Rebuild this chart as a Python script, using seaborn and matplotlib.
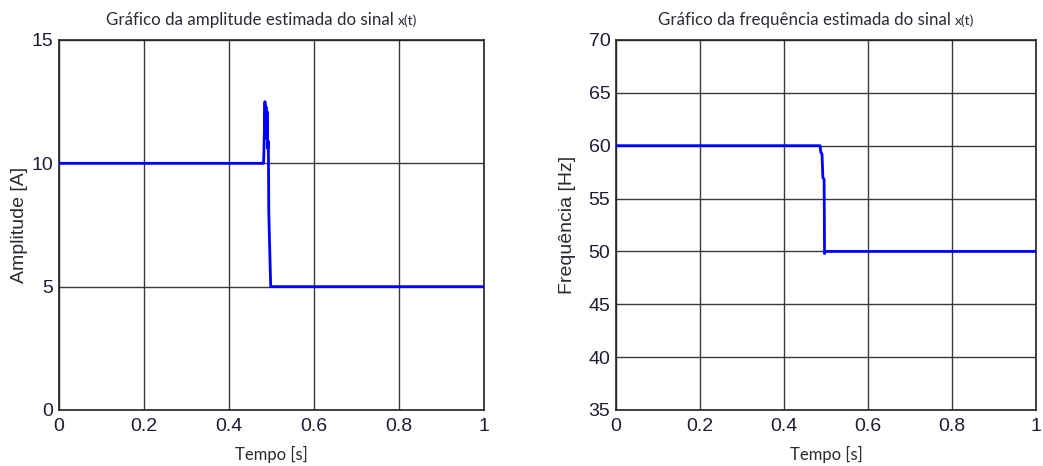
import matplotlib
matplotlib.use("Agg")
import matplotlib.pyplot as plt
import seaborn as sns
import pandas as pd
import numpy as np

# --- data ---
t_amp = [0.0, 0.481, 0.482, 0.4845, 0.4855, 0.487, 0.4885, 0.4895, 0.491, 0.4925, 0.4935, 0.498, 1.0]
amp   = [10.0, 10.0, 10.4, 12.5, 11.2, 12.3, 11.0, 12.1, 10.6, 10.9, 8.0, 5.0, 5.0]

t_freq = [0.0, 0.486, 0.4875, 0.4905, 0.4925, 0.4955, 0.4965, 0.498, 1.0]
freq   = [60.0, 60.0, 59.4, 59.2, 57.0, 56.8, 49.8, 50.0, 50.0]

xticks = [0, 0.2, 0.4, 0.6, 0.8, 1]
xtick_labels = ["0", "0.2", "0.4", "0.6", "0.8", "1"]
amp_yticks = [0, 5, 10, 15]
freq_yticks = [35, 40, 45, 50, 55, 60, 65, 70]

titles = ["Gráfico da amplitude estimada do sinal", "Gráfico da frequência estimada do sinal"]
title_suffix = "x(t)"
ylabels = ["Amplitude [A]", "Frequência [Hz]"]
xlabel = "Tempo [s]"

df_amp = pd.DataFrame({"t": t_amp, "v": amp})
df_freq = pd.DataFrame({"t": t_freq, "v": freq})

sns.set_style("white")
plt.rcParams['font.family'] = ['Liberation Sans', 'DejaVu Sans']

fig = plt.figure(figsize=(10.43, 4.66), dpi=100)
ax1 = fig.add_axes([0.0566, 0.1202, 0.4075, 0.794])
ax2 = fig.add_axes([0.5906, 0.1202, 0.4027, 0.794])

tick_color = "#1c1c34"
text_color = "#2a2a33"
title_font = ['Lato', 'DejaVu Sans']
specs = [
    (ax1, df_amp, (0, 15), amp_yticks, ylabels[0], 3),
    (ax2, df_freq, (35, 70), freq_yticks, ylabels[1], 9),
]
for ax, df, ylim, yticks, ylabel, lpad in specs:
    sns.lineplot(data=df, x="t", y="v", ax=ax, color="#0000ff", linewidth=2.0,
                 estimator=None, sort=False, zorder=3)
    ax.set_xlim(0, 1)
    ax.set_ylim(*ylim)
    ax.set_xticks(xticks)
    ax.set_xticklabels(xtick_labels)
    ax.set_yticks(yticks)
    ax.grid(True, color="#3a3a3a", linewidth=1.0, linestyle="-", zorder=0)
    ax.set_axisbelow(True)
    for s in ax.spines.values():
        s.set_color("#222222")
        s.set_linewidth(1.2)
        s.set_visible(True)
    ax.tick_params(axis="both", direction="in", length=4, labelsize=14,
                   colors="#222222", labelcolor=tick_color, pad=4)
    ax.tick_params(axis="x", pad=6)
    ax.set_xlabel(xlabel, fontsize=12, family=title_font,
                  color=text_color, labelpad=8)
    ax.set_ylabel(ylabel, fontsize=14, color=text_color, labelpad=lpad)

# titles: main text + smaller x(t)
fig.canvas.draw()
renderer = fig.canvas.get_renderer()
for ax, title in [(ax1, titles[0]), (ax2, titles[1])]:
    bb = ax.get_window_extent(renderer)
    cx = (bb.x0 + bb.x1) / 2 - 10
    y = bb.y1 + 15
    t1 = fig.text(0, y / fig.bbox.height, title + " ", fontsize=12.2, family=title_font,
                  color=text_color, ha="left", va="baseline")
    t2 = fig.text(0, y / fig.bbox.height, title_suffix, fontsize=10, family=title_font,
                  color=text_color, ha="left", va="baseline")
    w1 = t1.get_window_extent(renderer).width
    w2 = t2.get_window_extent(renderer).width
    x0 = cx - (w1 + w2) / 2
    t1.set_x(x0 / fig.bbox.width)
    t2.set_x((x0 + w1) / fig.bbox.width)

fig.savefig("out.png", dpi=100)
